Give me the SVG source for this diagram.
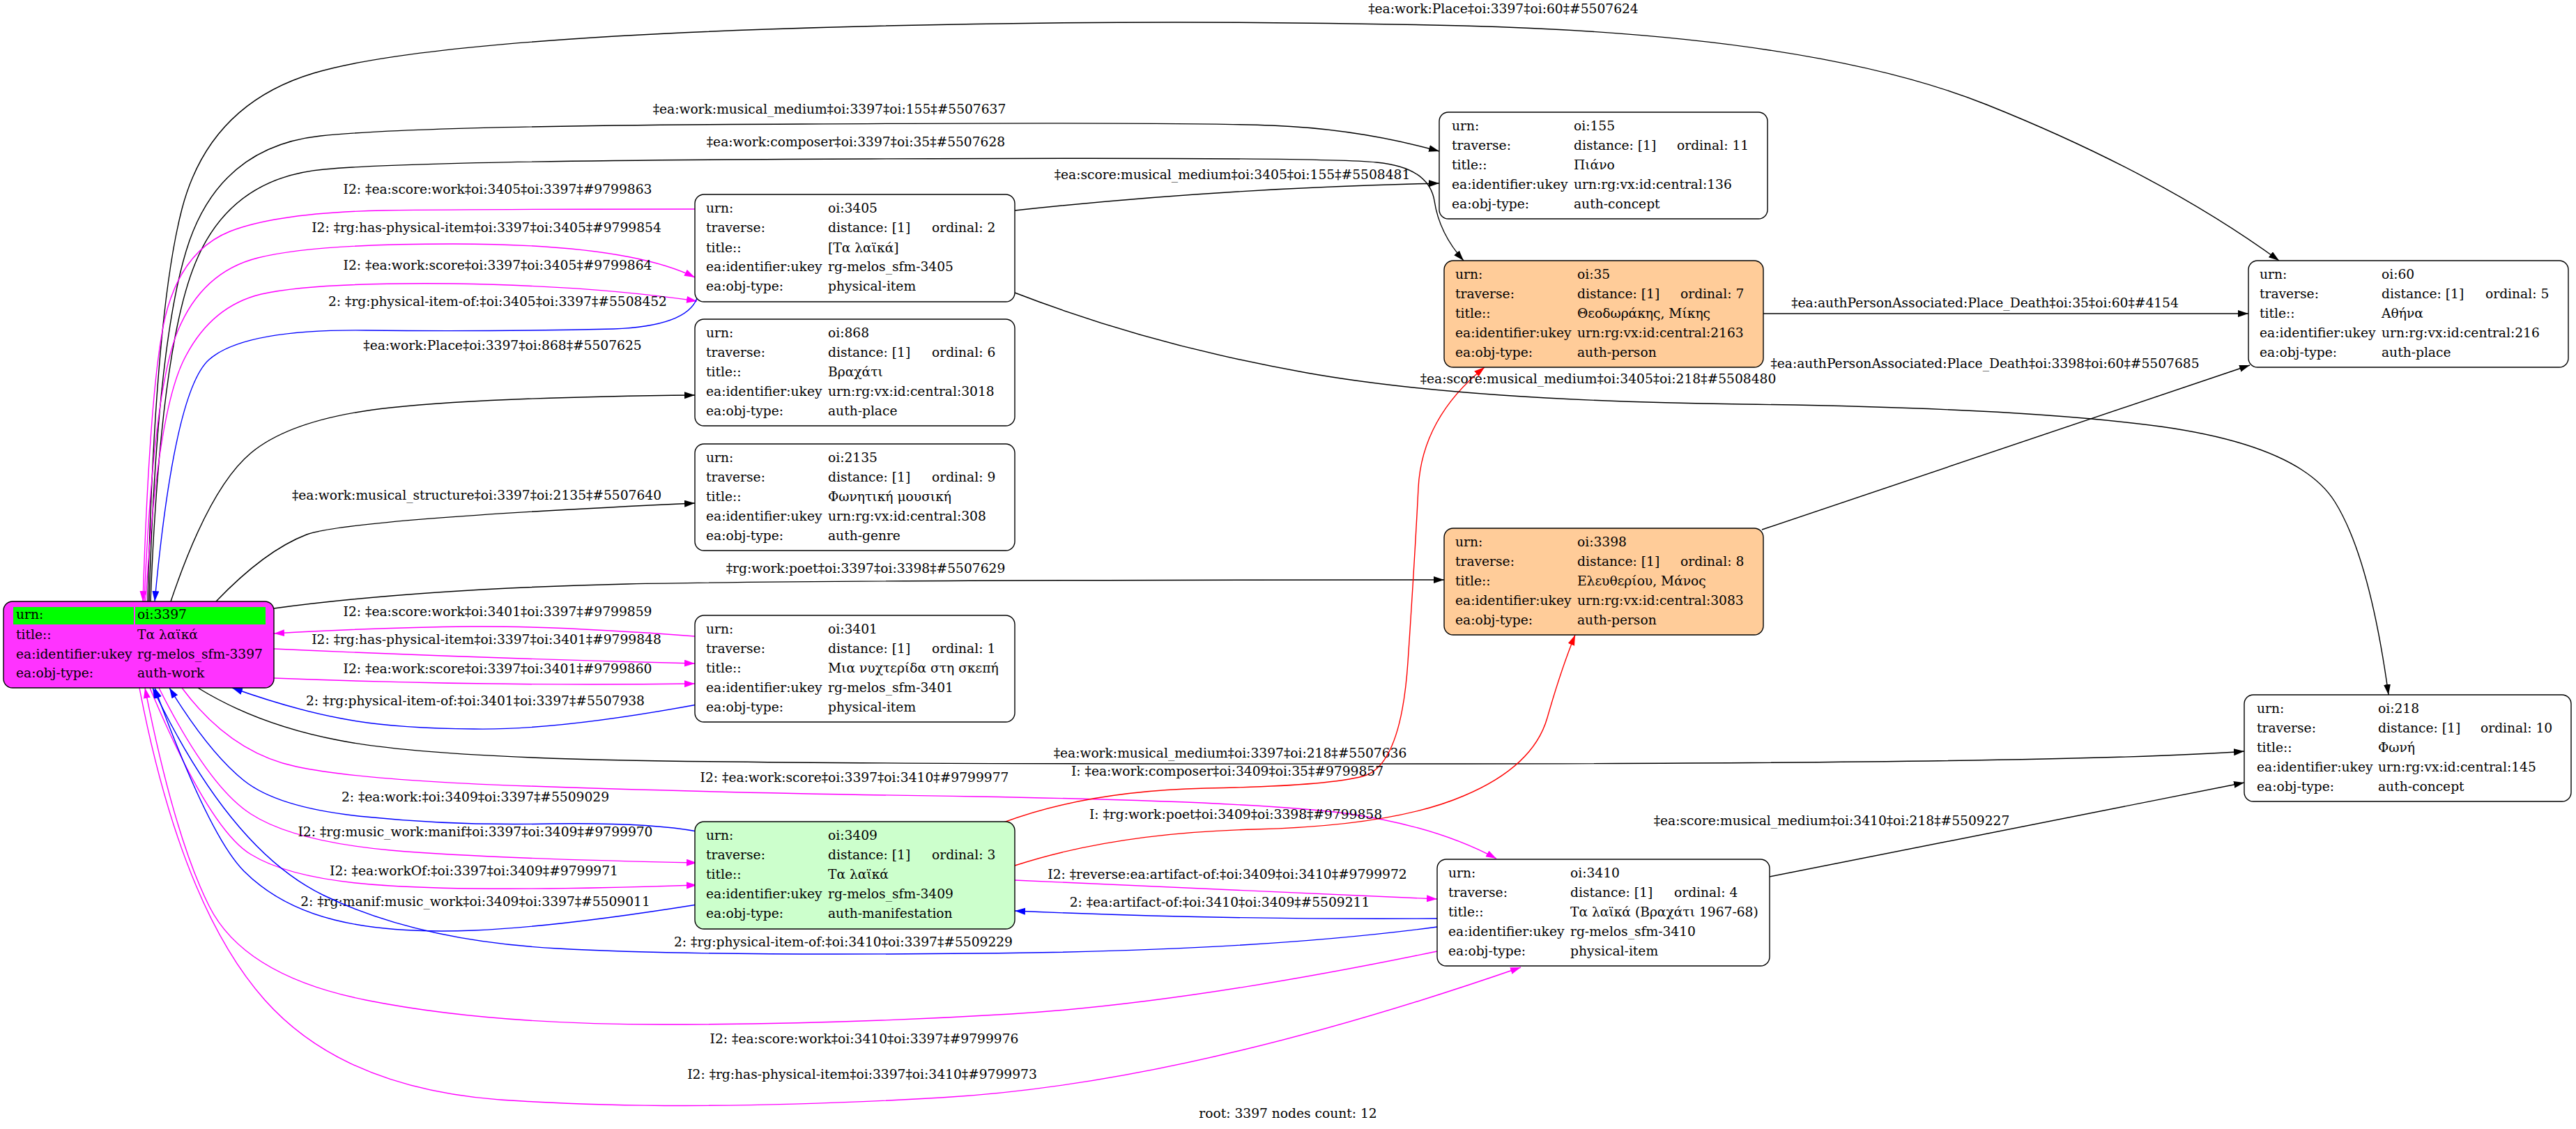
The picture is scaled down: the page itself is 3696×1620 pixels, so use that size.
<svg xmlns="http://www.w3.org/2000/svg" width="3696" height="1620" viewBox="0 0 3696 1620">
<style>
text { font-family: "DejaVu Serif", serif; font-size: 18.67px; fill: #000; }
.lbl { text-anchor: middle; }
.n { stroke: #000; stroke-width: 1.4; }
.w { fill: #fff; }
.p { fill: #ffcc99; }
.g { fill: #ccffcc; }
.root { fill: #ff33ff; }
.e { fill: none; stroke-width: 1.4; }
.k { stroke: #000; }
.m { stroke: #ff00ff; }
.b { stroke: #0000ff; }
.r { stroke: #ff0000; }
</style>
<defs>
<marker id="ak" markerWidth="16" markerHeight="12" refX="15" refY="5" orient="auto" markerUnits="userSpaceOnUse"><path d="M0,0 L15,5 L0,10 z" fill="#000"/></marker>
<marker id="am" markerWidth="16" markerHeight="12" refX="15" refY="5" orient="auto" markerUnits="userSpaceOnUse"><path d="M0,0 L15,5 L0,10 z" fill="#ff00ff"/></marker>
<marker id="ab" markerWidth="16" markerHeight="12" refX="15" refY="5" orient="auto" markerUnits="userSpaceOnUse"><path d="M0,0 L15,5 L0,10 z" fill="#0000ff"/></marker>
<marker id="ar" markerWidth="16" markerHeight="12" refX="15" refY="5" orient="auto" markerUnits="userSpaceOnUse"><path d="M0,0 L15,5 L0,10 z" fill="#ff0000"/></marker>
</defs>
<rect width="3696" height="1620" fill="#fff"/>

<g id="connectors">
<path class="e k" marker-end="url(#ak)" d="M212,863 Q222,450 261,300 Q300,150 450,105 Q600,60 1100,42 Q1600,25 2100,37 Q2600,50 2850,150 Q3100,250 3270,374"/>
<text class="lbl" x="2157" y="19">‡ea:work:Place‡oi:3397‡oi:60‡#5507624</text>
<path class="e k" marker-end="url(#ak)" d="M214,863 Q225,480 272,345 Q320,210 460,195 Q600,180 1150,178 Q1700,175 1825,180 Q1950,185 2065,217"/>
<text class="lbl" x="1190" y="163">‡ea:work:musical_medium‡oi:3397‡oi:155‡#5507637</text>
<path class="e k" marker-end="url(#ak)" d="M216,863 Q230,500 280,378 Q330,255 465,243 Q600,230 1250,228 Q1900,225 1975,233 Q2050,240 2058,288 Q2065,335 2100,374"/>
<text class="lbl" x="1228" y="210">‡ea:work:composer‡oi:3397‡oi:35‡#5507628</text>
<path class="e m" marker-end="url(#am)" d="M997,300 Q700,300 550,302 Q400,305 330,332 Q260,360 237,455 Q215,550 205,863"/>
<text class="lbl" x="714" y="278">I2: ‡ea:score:work‡oi:3405‡oi:3397‡#9799863</text>
<path class="e m" marker-end="url(#am)" d="M207,863 Q220,560 255,475 Q290,390 370,370 Q450,350 650,350 Q900,350 997,398"/>
<text class="lbl" x="698" y="333">I2: ‡rg:has-physical-item‡oi:3397‡oi:3405‡#9799854</text>
<path class="e m" marker-end="url(#am)" d="M209,863 Q225,600 262,520 Q300,440 375,422 Q450,405 650,407 Q850,410 1000,432"/>
<text class="lbl" x="714" y="387">I2: ‡ea:work:score‡oi:3397‡oi:3405‡#9799864</text>
<path class="e b" marker-end="url(#ab)" d="M1000,428 Q985,468 880,472 Q700,476 525,474 Q350,472 300,516 Q250,560 222,863"/>
<text class="lbl" x="714" y="439">2: ‡rg:physical-item-of:‡oi:3405‡oi:3397‡#5508452</text>
<path class="e k" marker-end="url(#ak)" d="M245,863 Q300,700 360,650 Q420,600 560,585 Q700,570 997,567"/>
<text class="lbl" x="721" y="502">‡ea:work:Place‡oi:3397‡oi:868‡#5507625</text>
<path class="e k" marker-end="url(#ak)" d="M310,863 Q380,790 440,767 Q500,745 997,722"/>
<text class="lbl" x="684" y="717">‡ea:work:musical_structure‡oi:3397‡oi:2135‡#5507640</text>
<path class="e k" marker-end="url(#ak)" d="M393,873 Q600,845 900,838 Q1200,832 2072,832"/>
<text class="lbl" x="1242" y="822">‡rg:work:poet‡oi:3397‡oi:3398‡#5507629</text>
<path class="e m" marker-end="url(#am)" d="M997,913 Q800,898 675,899 Q550,900 393,909"/>
<text class="lbl" x="714" y="884">I2: ‡ea:score:work‡oi:3401‡oi:3397‡#9799859</text>
<path class="e m" marker-end="url(#am)" d="M393,931 Q700,945 997,952"/>
<text class="lbl" x="698" y="924">I2: ‡rg:has-physical-item‡oi:3397‡oi:3401‡#9799848</text>
<path class="e m" marker-end="url(#am)" d="M393,973 Q700,985 997,981"/>
<text class="lbl" x="714" y="966">I2: ‡ea:work:score‡oi:3397‡oi:3401‡#9799860</text>
<path class="e b" marker-end="url(#ab)" d="M1000,1011 Q800,1048 680,1046 Q560,1045 490,1031 Q420,1018 333,987"/>
<text class="lbl" x="682" y="1012">2: ‡rg:physical-item-of:‡oi:3401‡oi:3397‡#5507938</text>
<path class="e k" marker-end="url(#ak)" d="M284,987 Q370,1040 485,1062 Q600,1085 900,1091 Q1200,1097 2100,1096 Q3000,1095 3220,1078"/>
<text class="lbl" x="1765" y="1087">‡ea:work:musical_medium‡oi:3397‡oi:218‡#5507636</text>
<path class="e m" marker-end="url(#am)" d="M261,987 Q330,1080 425,1100 Q520,1120 760,1128 Q1000,1137 1400,1143 Q1800,1150 1930,1167 Q2060,1185 2147,1232"/>
<text class="lbl" x="1226" y="1122">I2: ‡ea:work:score‡oi:3397‡oi:3410‡#9799977</text>
<path class="e r" marker-end="url(#ar)" d="M1440,1180 Q1560,1135 1730,1131 Q1900,1128 1955,1114 Q2010,1100 2020,950 Q2030,800 2035,700 Q2040,600 2130,527"/>
<text class="lbl" x="1761" y="1113">I: ‡ea:work:composer‡oi:3409‡oi:35‡#9799857</text>
<path class="e k" marker-end="url(#ak)" d="M2539,1258 L3220,1123"/>
<text class="lbl" x="2628" y="1184">‡ea:score:musical_medium‡oi:3410‡oi:218‡#5509227</text>
<path class="e b" marker-end="url(#ab)" d="M1000,1193 Q930,1180 790,1182 Q650,1185 525,1172 Q400,1160 350,1120 Q300,1080 243,987"/>
<text class="lbl" x="682" y="1150">2: ‡ea:work:‡oi:3409‡oi:3397‡#5509029</text>
<path class="e r" marker-end="url(#ar)" d="M1456,1242 Q1600,1195 1800,1190 Q2000,1185 2100,1142 Q2200,1100 2220,1030 Q2240,960 2260,911"/>
<text class="lbl" x="1773" y="1175">I: ‡rg:work:poet‡oi:3409‡oi:3398‡#9799858</text>
<path class="e m" marker-end="url(#am)" d="M228,987 Q300,1130 360,1168 Q420,1207 560,1220 Q700,1232 1000,1238"/>
<text class="lbl" x="682" y="1200">I2: ‡rg:music_work:manif‡oi:3397‡oi:3409‡#9799970</text>
<path class="e m" marker-end="url(#am)" d="M1456,1263 Q1750,1275 2062,1290"/>
<text class="lbl" x="1761" y="1261">I2: ‡reverse:ea:artifact-of:‡oi:3409‡oi:3410‡#9799972</text>
<path class="e b" marker-end="url(#ab)" d="M2062,1318 Q1750,1320 1456,1307"/>
<text class="lbl" x="1750" y="1301">2: ‡ea:artifact-of:‡oi:3410‡oi:3409‡#5509211</text>
<path class="e m" marker-end="url(#am)" d="M215,987 Q300,1190 360,1226 Q420,1263 560,1271 Q700,1280 1000,1270"/>
<text class="lbl" x="680" y="1256">I2: ‡ea:workOf:‡oi:3397‡oi:3409‡#9799971</text>
<path class="e b" marker-end="url(#ab)" d="M1000,1298 Q800,1330 680,1335 Q560,1340 480,1320 Q400,1300 350,1250 Q300,1200 222,987"/>
<text class="lbl" x="682" y="1300">2: ‡rg:manif:music_work‡oi:3409‡oi:3397‡#5509011</text>
<path class="e b" marker-end="url(#ab)" d="M2062,1330 Q1800,1365 1400,1368 Q1000,1372 800,1361 Q600,1350 465,1285 Q330,1220 219,987"/>
<text class="lbl" x="1210" y="1358">2: ‡rg:physical-item-of:‡oi:3410‡oi:3397‡#5509229</text>
<path class="e m" marker-end="url(#am)" d="M2062,1365 Q1700,1440 1450,1455 Q1200,1470 950,1470 Q700,1470 525,1435 Q350,1400 300,1300 Q250,1200 208,987"/>
<text class="lbl" x="1240" y="1497">I2: ‡ea:score:work‡oi:3410‡oi:3397‡#9799976</text>
<path class="e m" marker-end="url(#am)" d="M200,987 Q260,1300 380,1435 Q500,1570 750,1580 Q1000,1595 1350,1575 Q1700,1555 2182,1388"/>
<text class="lbl" x="1237" y="1548">I2: ‡rg:has-physical-item‡oi:3397‡oi:3410‡#9799973</text>
<path class="e k" marker-end="url(#ak)" d="M1456,302 Q1750,270 2065,263"/>
<text class="lbl" x="1768" y="257">‡ea:score:musical_medium‡oi:3405‡oi:155‡#5508481</text>
<path class="e k" marker-end="url(#ak)" d="M1456,420 Q1650,495 1875,535 Q2100,575 2500,580 Q2900,585 3100,612 Q3300,640 3350,720 Q3400,800 3427,997"/>
<text class="lbl" x="2293" y="550">‡ea:score:musical_medium‡oi:3405‡oi:218‡#5508480</text>
<path class="e k" marker-end="url(#ak)" d="M2530,450 L3226,450"/>
<text class="lbl" x="2848" y="441">‡ea:authPersonAssociated:Place_Death‡oi:35‡oi:60‡#4154</text>
<path class="e k" marker-end="url(#ak)" d="M2528,760 L3228,524"/>
<text class="lbl" x="2848" y="528">‡ea:authPersonAssociated:Place_Death‡oi:3398‡oi:60‡#5507685</text>
</g>

<g id="n3397">
<rect class="n root" x="5" y="863" width="388" height="124" rx="13"/>
<rect x="19" y="871" width="173" height="25" fill="#00ff00"/>
<rect x="194" y="871" width="187" height="25" fill="#00ff00"/>
<text y="888"><tspan x="23">urn:</tspan><tspan x="197">oi:3397</tspan></text>
<text y="917"><tspan x="23">title::</tspan><tspan x="197">Τα λαϊκά</tspan></text>
<text y="945"><tspan x="23">ea:identifier:ukey</tspan><tspan x="197">rg-melos_sfm-3397</tspan></text>
<text y="972"><tspan x="23">ea:obj-type:</tspan><tspan x="197">auth-work</tspan></text>
</g>

<g id="n3405">
<rect class="n w" x="997" y="279" width="459" height="154" rx="13"/>
<text y="305"><tspan x="1013">urn:</tspan><tspan x="1188">oi:3405</tspan></text>
<text y="333"><tspan x="1013">traverse:</tspan><tspan x="1188">distance: [1]</tspan><tspan x="1337">ordinal: 2</tspan></text>
<text y="362"><tspan x="1013">title::</tspan><tspan x="1188">[Τα λαϊκά]</tspan></text>
<text y="389"><tspan x="1013">ea:identifier:ukey</tspan><tspan x="1188">rg-melos_sfm-3405</tspan></text>
<text y="417"><tspan x="1013">ea:obj-type:</tspan><tspan x="1188">physical-item</tspan></text>
</g>

<g id="n868">
<rect class="n w" x="997" y="458" width="459" height="153" rx="13"/>
<text y="484"><tspan x="1013">urn:</tspan><tspan x="1188">oi:868</tspan></text>
<text y="512"><tspan x="1013">traverse:</tspan><tspan x="1188">distance: [1]</tspan><tspan x="1337">ordinal: 6</tspan></text>
<text y="540"><tspan x="1013">title::</tspan><tspan x="1188">Βραχάτι</tspan></text>
<text y="568"><tspan x="1013">ea:identifier:ukey</tspan><tspan x="1188">urn:rg:vx:id:central:3018</tspan></text>
<text y="596"><tspan x="1013">ea:obj-type:</tspan><tspan x="1188">auth-place</tspan></text>
</g>

<g id="n2135">
<rect class="n w" x="997" y="637" width="459" height="153" rx="13"/>
<text y="663"><tspan x="1013">urn:</tspan><tspan x="1188">oi:2135</tspan></text>
<text y="691"><tspan x="1013">traverse:</tspan><tspan x="1188">distance: [1]</tspan><tspan x="1337">ordinal: 9</tspan></text>
<text y="719"><tspan x="1013">title::</tspan><tspan x="1188">Φωνητική μουσική</tspan></text>
<text y="747"><tspan x="1013">ea:identifier:ukey</tspan><tspan x="1188">urn:rg:vx:id:central:308</tspan></text>
<text y="775"><tspan x="1013">ea:obj-type:</tspan><tspan x="1188">auth-genre</tspan></text>
</g>

<g id="n3401">
<rect class="n w" x="997" y="883" width="459" height="153" rx="13"/>
<text y="909"><tspan x="1013">urn:</tspan><tspan x="1188">oi:3401</tspan></text>
<text y="937"><tspan x="1013">traverse:</tspan><tspan x="1188">distance: [1]</tspan><tspan x="1337">ordinal: 1</tspan></text>
<text y="965"><tspan x="1013">title::</tspan><tspan x="1188">Μια νυχτερίδα στη σκεπή</tspan></text>
<text y="993"><tspan x="1013">ea:identifier:ukey</tspan><tspan x="1188">rg-melos_sfm-3401</tspan></text>
<text y="1021"><tspan x="1013">ea:obj-type:</tspan><tspan x="1188">physical-item</tspan></text>
</g>

<g id="n3409">
<rect class="n g" x="997" y="1179" width="459" height="154" rx="13"/>
<text y="1205"><tspan x="1013">urn:</tspan><tspan x="1188">oi:3409</tspan></text>
<text y="1233"><tspan x="1013">traverse:</tspan><tspan x="1188">distance: [1]</tspan><tspan x="1337">ordinal: 3</tspan></text>
<text y="1261"><tspan x="1013">title::</tspan><tspan x="1188">Τα λαϊκά</tspan></text>
<text y="1289"><tspan x="1013">ea:identifier:ukey</tspan><tspan x="1188">rg-melos_sfm-3409</tspan></text>
<text y="1317"><tspan x="1013">ea:obj-type:</tspan><tspan x="1188">auth-manifestation</tspan></text>
</g>

<g id="n155">
<rect class="n w" x="2065" y="161" width="471" height="153" rx="13"/>
<text y="187"><tspan x="2083">urn:</tspan><tspan x="2258">oi:155</tspan></text>
<text y="215"><tspan x="2083">traverse:</tspan><tspan x="2258">distance: [1]</tspan><tspan x="2406">ordinal: 11</tspan></text>
<text y="243"><tspan x="2083">title::</tspan><tspan x="2258">Πιάνο</tspan></text>
<text y="271"><tspan x="2083">ea:identifier:ukey</tspan><tspan x="2258">urn:rg:vx:id:central:136</tspan></text>
<text y="299"><tspan x="2083">ea:obj-type:</tspan><tspan x="2258">auth-concept</tspan></text>
</g>

<g id="n35">
<rect class="n p" x="2072" y="374" width="458" height="153" rx="13"/>
<text y="400"><tspan x="2088">urn:</tspan><tspan x="2263">oi:35</tspan></text>
<text y="428"><tspan x="2088">traverse:</tspan><tspan x="2263">distance: [1]</tspan><tspan x="2411">ordinal: 7</tspan></text>
<text y="456"><tspan x="2088">title::</tspan><tspan x="2263">Θεοδωράκης, Μίκης</tspan></text>
<text y="484"><tspan x="2088">ea:identifier:ukey</tspan><tspan x="2263">urn:rg:vx:id:central:2163</tspan></text>
<text y="512"><tspan x="2088">ea:obj-type:</tspan><tspan x="2263">auth-person</tspan></text>
</g>

<g id="n3398">
<rect class="n p" x="2072" y="758" width="458" height="153" rx="13"/>
<text y="784"><tspan x="2088">urn:</tspan><tspan x="2263">oi:3398</tspan></text>
<text y="812"><tspan x="2088">traverse:</tspan><tspan x="2263">distance: [1]</tspan><tspan x="2411">ordinal: 8</tspan></text>
<text y="840"><tspan x="2088">title::</tspan><tspan x="2263">Ελευθερίου, Μάνος</tspan></text>
<text y="868"><tspan x="2088">ea:identifier:ukey</tspan><tspan x="2263">urn:rg:vx:id:central:3083</tspan></text>
<text y="896"><tspan x="2088">ea:obj-type:</tspan><tspan x="2263">auth-person</tspan></text>
</g>

<g id="n3410">
<rect class="n w" x="2062" y="1233" width="477" height="153" rx="13"/>
<text y="1259"><tspan x="2078">urn:</tspan><tspan x="2253">oi:3410</tspan></text>
<text y="1287"><tspan x="2078">traverse:</tspan><tspan x="2253">distance: [1]</tspan><tspan x="2402">ordinal: 4</tspan></text>
<text y="1315"><tspan x="2078">title::</tspan><tspan x="2253">Τα λαϊκά (Βραχάτι 1967-68)</tspan></text>
<text y="1343"><tspan x="2078">ea:identifier:ukey</tspan><tspan x="2253">rg-melos_sfm-3410</tspan></text>
<text y="1371"><tspan x="2078">ea:obj-type:</tspan><tspan x="2253">physical-item</tspan></text>
</g>

<g id="n60">
<rect class="n w" x="3226" y="374" width="459" height="153" rx="13"/>
<text y="400"><tspan x="3242">urn:</tspan><tspan x="3417">oi:60</tspan></text>
<text y="428"><tspan x="3242">traverse:</tspan><tspan x="3417">distance: [1]</tspan><tspan x="3566">ordinal: 5</tspan></text>
<text y="456"><tspan x="3242">title::</tspan><tspan x="3417">Αθήνα</tspan></text>
<text y="484"><tspan x="3242">ea:identifier:ukey</tspan><tspan x="3417">urn:rg:vx:id:central:216</tspan></text>
<text y="512"><tspan x="3242">ea:obj-type:</tspan><tspan x="3417">auth-place</tspan></text>
</g>

<g id="n218">
<rect class="n w" x="3220" y="997" width="469" height="153" rx="13"/>
<text y="1023"><tspan x="3238">urn:</tspan><tspan x="3412">oi:218</tspan></text>
<text y="1051"><tspan x="3238">traverse:</tspan><tspan x="3412">distance: [1]</tspan><tspan x="3559">ordinal: 10</tspan></text>
<text y="1079"><tspan x="3238">title::</tspan><tspan x="3412">Φωνή</tspan></text>
<text y="1107"><tspan x="3238">ea:identifier:ukey</tspan><tspan x="3412">urn:rg:vx:id:central:145</tspan></text>
<text y="1135"><tspan x="3238">ea:obj-type:</tspan><tspan x="3412">auth-concept</tspan></text>
</g>

<text class="lbl" x="1848" y="1604">root: 3397 nodes count: 12</text>
</svg>
